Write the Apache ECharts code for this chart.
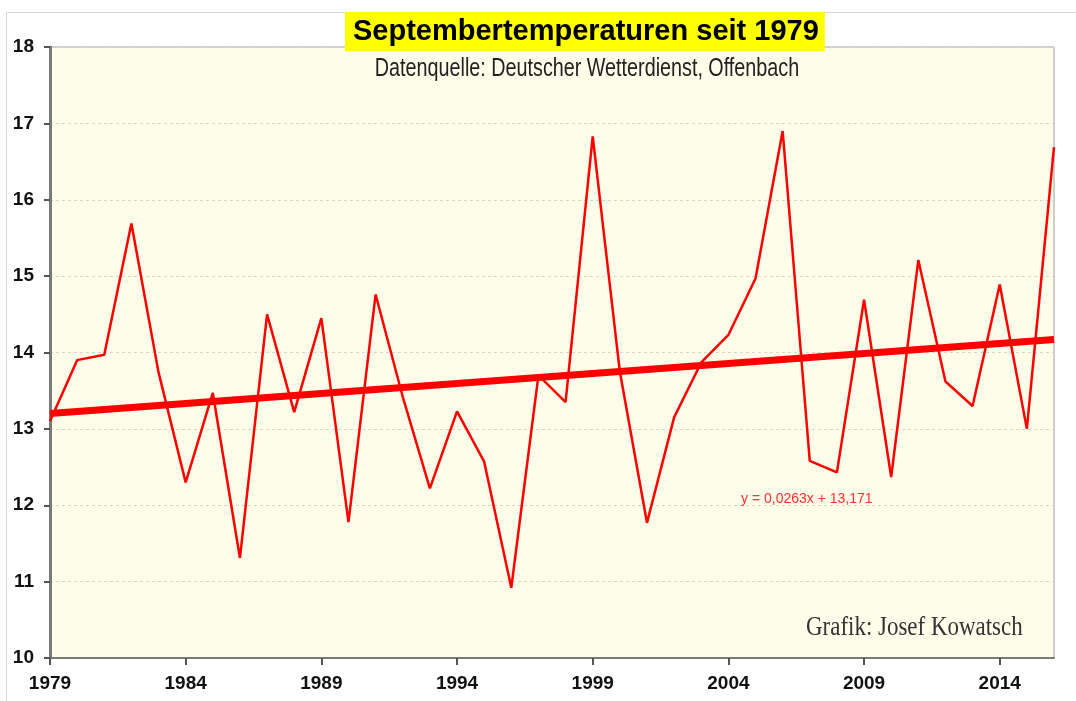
<!DOCTYPE html>
<html>
<head>
<meta charset="utf-8">
<title>Septembertemperaturen seit 1979</title>
<script src="https://cdn.jsdelivr.net/npm/echarts@6/dist/echarts.min.js"></script>
<style>
  html, body { margin: 0; padding: 0; background: #fff; }
  #chart { width: 1076px; height: 701px; }
</style>
</head>
<body>
<div id="chart"></div>
<script>
// Jahre 1979..2016
const years = ['1979', '1980', '1981', '1982', '1983', '1984', '1985', '1986', '1987', '1988',
  '1989', '1990', '1991', '1992', '1993', '1994', '1995', '1996', '1997', '1998',
  '1999', '2000', '2001', '2002', '2003', '2004', '2005', '2006', '2007', '2008',
  '2009', '2010', '2011', '2012', '2013', '2014', '2015', '2016']
// Septembermittel in °C
const temps = [13.1, 13.9, 13.97, 15.69, 13.74, 12.3, 13.47, 11.31, 14.5, 13.22,
  14.45, 11.78, 14.76, 13.42, 12.22, 13.23, 12.57, 10.92, 13.7, 13.35,
  16.83, 13.75, 11.77, 13.15, 13.87, 14.23, 14.97, 16.9, 12.58, 12.43,
  14.69, 12.37, 15.21, 13.62, 13.3, 14.89, 13.0, 16.69]
// Trendlinie: Anfangs- und Endwert
const trendEnds = [13.2, 14.17]
const yTicks = [10, 11, 12, 13, 14, 15, 16, 17, 18]

const chart = echarts.init(document.getElementById('chart'))

const option = {
  backgroundColor: '#ffffff',
  animation: false,
  graphic: [
    // heller Rahmen um die ganze Grafik
    {
      type: 'rect',
      shape: { x: 6.5, y: 12.5, width: 1100, height: 720 },
      style: { fill: 'none', stroke: '#d8d8d8', lineWidth: 1 },
      z: 0
    },
    // Untertitel (schmale Schrift nachgebildet)
    {
      type: 'text',
      x: 587,
      y: 56,
      scaleX: 0.76,
      style: {
        text: 'Datenquelle: Deutscher Wetterdienst, Offenbach',
        font: '26px "Liberation Sans", Arial, sans-serif',
        fill: '#222',
        textAlign: 'center',
        textVerticalAlign: 'top'
      },
      z: 10
    },
    {
      type: 'text',
      x: 806,
      y: 614,
      scaleX: 0.85,
      style: {
        text: 'Grafik: Josef Kowatsch',
        font: '27px "Liberation Serif", "DejaVu Serif", serif',
        fill: '#333333',
        textVerticalAlign: 'top'
      },
      z: 10
    },
    {
      type: 'text',
      x: 741,
      y: 492,
      style: {
        text: 'y = 0,0263x + 13,171',
        font: '14px "Liberation Sans", Arial, sans-serif',
        fill: '#ff3030',
        textVerticalAlign: 'top'
      },
      z: 10
    }
  ],
  title: {
    text: 'Septembertemperaturen seit 1979',
    left: 345,
    top: 12,
    padding: [5, 6, 5, 8],
    backgroundColor: '#ffff00',
    textStyle: {
      fontFamily: '"Liberation Sans", Arial, sans-serif',
      fontWeight: 'bold',
      fontSize: 29,
      color: '#000'
    },
    z: 10
  },
  grid: {
    left: 50,
    right: 22,
    top: 47,
    bottom: 43,
    show: true,
    backgroundColor: '#fefde9',
    borderColor: '#a0a0a0',
    borderWidth: 1
  },
  xAxis: {
    type: 'category',
    data: years,
    boundaryGap: false,
    axisLine: { show: true, lineStyle: { color: '#7a7a7a', width: 2 } },
    axisTick: { show: true, interval: 4, length: 7, lineStyle: { color: '#555', width: 2 } },
    axisLabel: {
      interval: 4,
      margin: 16,
      color: '#111',
      fontFamily: '"Liberation Sans", Arial, sans-serif',
      fontWeight: 'bold',
      fontSize: 19
    },
    splitLine: { show: false }
  },
  yAxis: {
    type: 'value',
    min: yTicks[0],
    max: yTicks[yTicks.length - 1],
    interval: 1,
    axisLine: { show: true, lineStyle: { color: '#7a7a7a', width: 3 } },
    axisTick: { show: true, length: 6, lineStyle: { color: '#555', width: 2 } },
    axisLabel: {
      margin: 16,
      color: '#111',
      fontFamily: '"Liberation Sans", Arial, sans-serif',
      fontWeight: 'bold',
      fontSize: 19
    },
    splitLine: { show: true, lineStyle: { color: '#d6d6d0', type: [3, 3], width: 1 } }
  },
  series: [
    {
      name: 'September',
      type: 'line',
      data: temps,
      symbol: 'none',
      lineStyle: { color: '#ff0000', width: 2.5 },
      z: 3
    },
    {
      name: 'Trend',
      type: 'line',
      data: [],
      markLine: {
        silent: true,
        symbol: 'none',
        label: { show: false },
        lineStyle: { color: '#ff0000', width: 7, type: 'solid' },
        data: [[
          { coord: [years[0], trendEnds[0]] },
          { coord: [years[years.length - 1], trendEnds[1]] }
        ]]
      },
      z: 4
    }
  ]
}

chart.setOption(option)
</script>
</body>
</html>
